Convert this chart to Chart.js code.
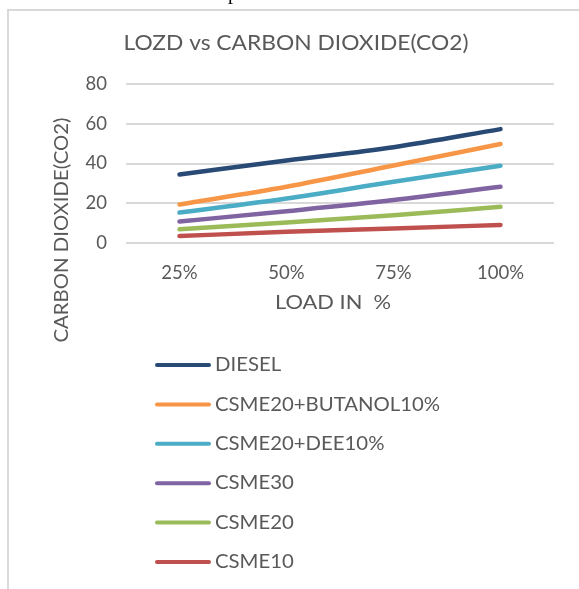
<!DOCTYPE html>
<html>
<head>
<meta charset="utf-8">
<script src="https://cdn.jsdelivr.net/npm/chart.js@4.4.1/dist/chart.umd.min.js"></script>
<style>
  html, body { margin: 0; padding: 0; background: #fff; }
  #grafico { display: block; }
</style>
</head>
<body>
<canvas id="grafico" width="579" height="589"></canvas>
<script>
// Dados
const cargas = ['25%', '50%', '75%', '100%'];
const diesel = [34.5, 41.5, 48.2, 57.3];
const butanol = [19.4, 28.3, 39.0, 49.8];
const dee = [15.3, 22.4, 30.8, 38.9];
const csme30 = [10.8, 16.0, 21.6, 28.3];
const csme20 = [6.9, 10.3, 14.0, 18.2];
const csme10 = [3.5, 5.6, 7.3, 9.1];
const yTicks = [0, 20, 40, 60, 80];

const nomes = ['DIESEL', 'CSME20+BUTANOL10%', 'CSME20+DEE10%', 'CSME30', 'CSME20', 'CSME10'];
const series = [diesel, butanol, dee, csme30, csme20, csme10];
const cores = ['#284a75', '#f79646', '#4bacc6', '#8064a2', '#9bbb59', '#c0504d'];

const cinza = '#595959';
const fonte = 'Lato, "Open Sans", sans-serif';

// escreve um texto com largura ajustada (o original é um pouco mais largo)
function texto(ctx, str, x, y, size, esticar, align) {
    ctx.save();
    ctx.font = size + 'px ' + fonte;
    ctx.textAlign = align || 'center';
    ctx.textBaseline = 'middle';
    ctx.translate(x, y);
    ctx.scale(esticar, 1);
    ctx.fillText(str, 0, 0);
    ctx.restore();
}

// Título, eixos, legenda e moldura desenhados à mão
const extras = {
    id: 'extras',
    beforeDraw(chart) {
        const ctx = chart.ctx;
        ctx.save();
        ctx.strokeStyle = '#d9d9d9';
        ctx.lineWidth = 2;
        ctx.beginPath();
        ctx.moveTo(579, 10);
        ctx.lineTo(8, 10);
        ctx.lineTo(8, 589);
        ctx.stroke();
        // pedaço de letra do texto acima da figura
        ctx.fillStyle = '#000';
        ctx.font = '20px "Liberation Serif", serif';
        ctx.textAlign = 'center';
        ctx.textBaseline = 'alphabetic';
        ctx.fillText('p', 233, -1);
        ctx.restore();
    },
    afterDraw(chart) {
        const ctx = chart.ctx;
        ctx.save();
        ctx.fillStyle = cinza;
        texto(ctx, 'LOZD vs CARBON DIOXIDE(CO2)', 296, 43, 21.5, 1.06);
        texto(ctx, 'LOAD IN  %', 333, 303, 19, 1.15);
        ctx.save();
        ctx.translate(62, 230);
        ctx.rotate(-Math.PI / 2);
        texto(ctx, 'CARBON DIOXIDE(CO2)', 0, 0, 19, 1.07);
        ctx.restore();

        // legenda em coluna
        ctx.lineCap = 'round';
        ctx.lineWidth = 4;
        chart.data.datasets.forEach((ds, i) => {
            const y = 365 + i * 39.4;
            ctx.strokeStyle = ds.borderColor;
            ctx.beginPath();
            ctx.moveTo(157, y);
            ctx.lineTo(209, y);
            ctx.stroke();
            ctx.fillStyle = cinza;
            texto(ctx, ds.label, 215, y, 19, 1.07, 'left');
        });
        ctx.restore();
    }
};

new Chart(document.getElementById('grafico'), {
    type: 'line',
    data: {
        labels: cargas,
        datasets: series.map((valores, i) => ({
            label: nomes[i],
            data: valores,
            borderColor: cores[i],
            backgroundColor: cores[i],
            borderWidth: 4.5,
            borderCapStyle: 'round',
            pointRadius: 0,
            cubicInterpolationMode: 'monotone',
            fill: false
        }))
    },
    options: {
        responsive: false,
        devicePixelRatio: 1,
        animation: false,
        layout: { padding: { top: 84, right: 25, bottom: 0, left: 0 } },
        plugins: {
            legend: { display: false },
            title: { display: false },
            tooltip: { enabled: false }
        },
        scales: {
            x: {
                offset: true,
                grid: { display: false, drawTicks: false },
                border: { display: false },
                ticks: { color: cinza, font: { family: fonte, size: 18.5 }, padding: 19 },
                afterFit: s => { s.height = 346; }
            },
            y: {
                min: 0,
                max: 80,
                afterBuildTicks: s => { s.ticks = yTicks.map(v => ({ value: v })); },
                grid: { color: '#d9d9d9', lineWidth: 2, drawTicks: false },
                border: { display: false },
                ticks: { color: cinza, font: { family: fonte, size: 18.5 }, padding: 19 },
                afterFit: s => { s.width = 126; }
            }
        }
    },
    plugins: [extras]
});
</script>
</body>
</html>
